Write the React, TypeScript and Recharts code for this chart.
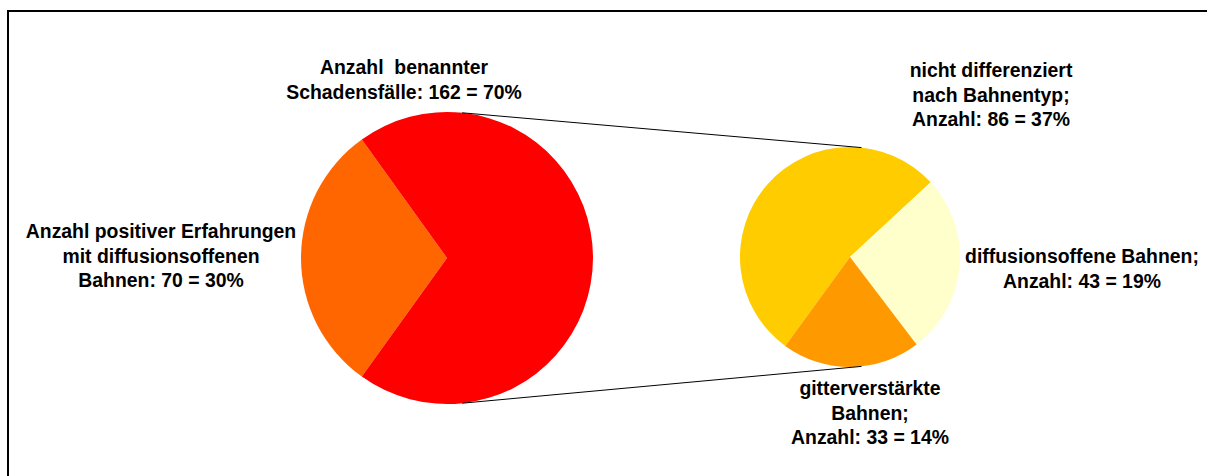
import React from 'react';
import { PieChart, Pie, Cell } from 'recharts';

// Hauptkreis
const mainNames = ['Anzahl positiver Erfahrungen mit diffusionsoffenen Bahnen', 'Anzahl benannter Schadensfälle'];
const mainValues = [70, 162];
const mainColors = ['#FF6600', '#FF0000'];
const mainLabels = [
  ['Anzahl positiver Erfahrungen', 'mit diffusionsoffenen', 'Bahnen: 70 = 30%'],
  ['Anzahl  benannter', 'Schadensfälle: 162 = 70%'],
];

// Aufteilung der Schadensfälle
const subNames = ['nicht differenziert nach Bahnentyp', 'diffusionsoffene Bahnen', 'gitterverstärkte Bahnen'];
const subValues = [86, 43, 33];
const subColors = ['#FFCC00', '#FFFFCC', '#FF9900'];
const subLabels = [
  ['nicht differenziert', 'nach Bahnentyp;', 'Anzahl: 86 = 37%'],
  ['diffusionsoffene Bahnen;', 'Anzahl: 43 = 19%'],
  ['gitterverstärkte', 'Bahnen;', 'Anzahl: 33 = 14%'],
];

const W = 1207;
const H = 476;
const FONT = '"Liberation Sans", Arial, Helvetica, sans-serif';
const LINE_H = 24.5;

const MAIN = { cx: 447, cy: 258, r: 146 };
const SUB = { cx: 850, cy: 257, r: 110 };
const CONNECT_ANGLE = 84;

// label anchor (center x, first baseline y)
const mainLabelPos = [
  { x: 161, y: 238 },
  { x: 404, y: 74 },
];
const subLabelPos = [
  { x: 991, y: 77 },
  { x: 1082, y: 263 },
  { x: 870, y: 395 },
];

const mainData = mainNames.map((name, i) => ({ name, value: mainValues[i] }));
const subData = subNames.map((name, i) => ({ name, value: subValues[i] }));

function makeLabel(lines: string[][], pos: { x: number; y: number }[]) {
  // eslint-disable-next-line @typescript-eslint/no-explicit-any
  return (props: any) => {
    const i = props.index;
    const p = pos[i];
    return (
      <text
        key={`lbl-${i}`}
        x={p.x}
        y={p.y}
        textAnchor="middle"
        fill="#000"
        style={{ fontFamily: FONT, fontSize: 19.4, fontWeight: 'bold' }}
      >
        {lines[i].map((l, j) => (
          <tspan key={j} x={p.x} y={p.y + j * LINE_H} style={{ whiteSpace: 'pre' }}>
            {l}
          </tspan>
        ))}
      </text>
    );
  };
}

function pt(c: { cx: number; cy: number; r: number }, deg: number) {
  const a = (deg * Math.PI) / 180;
  return { x: c.cx + c.r * Math.cos(a), y: c.cy - c.r * Math.sin(a) };
}

export default function App() {
  const subStart = 42.8 + (subValues[0] / subValues.reduce((a, b) => a + b, 0)) * 360;
  const mainStart = 180 - (mainValues[0] / mainValues.reduce((a, b) => a + b, 0)) * 180;
  const t1 = pt(MAIN, CONNECT_ANGLE);
  const t2 = pt(SUB, CONNECT_ANGLE);
  const b1 = pt(MAIN, -CONNECT_ANGLE);
  const b2 = pt(SUB, -CONNECT_ANGLE);

  return (
    <div style={{ position: 'absolute', left: 0, top: 0, width: W, height: H, background: '#fff' }}>
      <div
        style={{
          position: 'absolute',
          left: 7,
          top: 10,
          width: W - 7,
          height: H - 10,
          borderTop: '2px solid #000',
          borderLeft: '2px solid #000',
          boxSizing: 'border-box',
        }}
      />
      <div style={{ position: 'absolute', left: 0, top: 0 }}>
        <PieChart width={W} height={H} margin={{ top: 0, right: 0, bottom: 0, left: 0 }}>
          <Pie
            data={mainData}
            dataKey="value"
            nameKey="name"
            cx={MAIN.cx}
            cy={MAIN.cy}
            outerRadius={MAIN.r}
            startAngle={mainStart}
            endAngle={mainStart + 360}
            stroke="none"
            labelLine={false}
            label={makeLabel(mainLabels, mainLabelPos)}
            isAnimationActive={false}
          >
            {mainData.map((d, i) => (
              <Cell key={d.name} fill={mainColors[i]} />
            ))}
          </Pie>
          <Pie
            data={subData}
            dataKey="value"
            nameKey="name"
            cx={SUB.cx}
            cy={SUB.cy}
            outerRadius={SUB.r}
            startAngle={subStart}
            endAngle={subStart - 360}
            stroke="none"
            labelLine={false}
            label={makeLabel(subLabels, subLabelPos)}
            isAnimationActive={false}
          >
            {subData.map((d, i) => (
              <Cell key={d.name} fill={subColors[i]} />
            ))}
          </Pie>
        </PieChart>
      </div>
      <svg width={W} height={H} style={{ position: 'absolute', left: 0, top: 0, pointerEvents: 'none' }}>
        <line x1={t1.x} y1={t1.y} x2={t2.x} y2={t2.y} stroke="#000" strokeWidth={1} />
        <line x1={b1.x} y1={b1.y} x2={b2.x} y2={b2.y} stroke="#000" strokeWidth={1} />
      </svg>
    </div>
  );
}
